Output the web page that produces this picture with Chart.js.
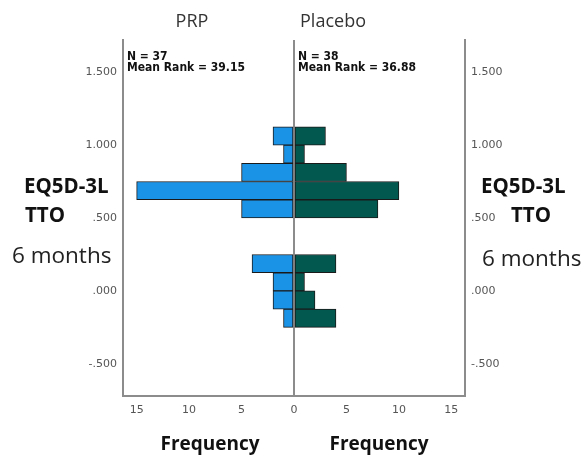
<!DOCTYPE html>
<html>
<head>
<meta charset="utf-8">
<script src="https://cdn.jsdelivr.net/npm/chart.js@4/dist/chart.umd.min.js"></script>
<style>
    html, body { margin: 0; padding: 0; background: #fff; }
    #wrap { width: 587px; height: 457px; }
</style>
</head>
<body>
<div id="wrap"><canvas id="pyramid"></canvas></div>
<script>
// bin midpoints (bin width .125) and counts per group
const binMids = [1.0625, 0.9375, 0.8125, 0.6875, 0.5625, 0.1875, 0.0625, -0.0625, -0.1875];
const prpCounts = [2, 1, 5, 15, 5, 4, 2, 2, 1];
const placeboCounts = [3, 1, 5, 10, 8, 4, 1, 2, 4];
const yTicks = [1.5, 1.0, 0.5, 0, -0.5];
const xTicks = [-15, -10, -5, 0, 5, 10, 15];
const groupLabels = ['PRP', 'Placebo'];
const groupStats = [['N = 37', 'Mean Rank = 39.15'], ['N = 38', 'Mean Rank = 36.88']];

const frameColor = '#8c8c8c';
const tickFont = { family: 'DejaVu Sans', size: 11 };

// "1.500", ".500", "-.500" like SPSS
function spssNum(v) {
    let s = Math.abs(v).toFixed(3);
    if (s.startsWith('0')) s = s.slice(1);
    return (v < 0 ? '-' : '') + s;
}

const sideText = {
    id: 'sideText',
    afterDraw(chart) {
        const ctx = chart.ctx;
        const a = chart.chartArea;
        const mid = chart.scales.x.getPixelForValue(0);
        ctx.save();
        ctx.fillStyle = '#333';
        ctx.textBaseline = 'alphabetic';
        ctx.textAlign = 'center';
        ctx.font = '18px "Open Sans"';
        ctx.fillText(groupLabels[0], 192, 27);
        ctx.fillText(groupLabels[1], 333, 27);

        ctx.fillStyle = '#111';
        ctx.font = 'bold 19px "Open Sans"';
        ctx.fillText('Frequency', 210, 450);
        ctx.fillText('Frequency', 379, 450);

        // variable label both sides
        ctx.textAlign = 'left';
        ctx.font = 'bold 20.5px "Open Sans"';
        ctx.fillText('EQ5D-3L', 24, 193);
        ctx.fillText('TTO', 25, 222);
        ctx.fillText('EQ5D-3L', 481, 193);
        ctx.fillText('TTO', 511, 222);
        ctx.fillStyle = '#222';
        ctx.font = '22.5px "Open Sans"';
        ctx.fillText('6 months', 12, 263);
        ctx.fillText('6 months', 482, 266);

        // N / mean rank annotations
        ctx.fillStyle = '#111';
        ctx.font = 'bold 12px "DejaVu Sans Condensed"';
        [a.left + 4, mid + 4].forEach((x, i) => {
            ctx.fillText(groupStats[i][0], x, a.top + 20);
            ctx.fillText(groupStats[i][1], x, a.top + 31);
        });
        ctx.restore();
    }
};

new Chart(document.getElementById('pyramid'), {
    type: 'bar',
    data: {
        datasets: [{
            label: groupLabels[0],
            data: binMids.map((m, i) => ({ x: -prpCounts[i], y: m })),
            backgroundColor: '#1a92e6',
            borderColor: '#1a1a1a',
            borderWidth: 1,
            borderSkipped: false
        }, {
            label: groupLabels[1],
            data: binMids.map((m, i) => ({ x: placeboCounts[i], y: m })),
            backgroundColor: '#02574f',
            borderColor: '#1a1a1a',
            borderWidth: 1,
            borderSkipped: false
        }]
    },
    options: {
        indexAxis: 'y',
        responsive: true,
        maintainAspectRatio: false,
        animation: false,
        grouped: false,
        categoryPercentage: 1,
        barPercentage: 1,
        layout: { padding: { top: 40, left: 0, right: 0, bottom: 0 } },
        plugins: {
            legend: { display: false },
            tooltip: { enabled: false }
        },
        scales: {
            x: {
                type: 'linear',
                min: -16.3,
                max: 16.3,
                afterBuildTicks: s => { s.ticks = xTicks.map(v => ({ value: v })); },
                afterFit: s => { s.height = 61; },
                grid: {
                    drawTicks: false,
                    color: c => c.tick && c.tick.value === 0 ? frameColor : 'transparent',
                    lineWidth: 2
                },
                border: { color: frameColor, width: 2 },
                ticks: {
                    padding: 8,
                    color: '#555',
                    font: tickFont,
                    callback: v => Math.abs(v)
                }
            },
            y: {
                type: 'linear',
                position: 'left',
                offset: false,
                min: -0.72,
                max: 1.72,
                afterBuildTicks: s => { s.ticks = yTicks.map(v => ({ value: v })); },
                afterFit: s => { s.width = 123; },
                grid: { display: false, drawTicks: false, offset: false },
                border: { color: frameColor, width: 2 },
                ticks: { padding: 6, color: '#555', font: tickFont, callback: v => spssNum(v) }
            },
            y2: {
                type: 'linear',
                position: 'right',
                offset: false,
                min: -0.72,
                max: 1.72,
                afterBuildTicks: s => { s.ticks = yTicks.map(v => ({ value: v })); },
                afterFit: s => { s.width = 122; },
                grid: { display: false, drawTicks: false, offset: false },
                border: { color: frameColor, width: 2 },
                ticks: { padding: 6, color: '#555', font: tickFont, callback: v => spssNum(v) }
            }
        }
    },
    plugins: [sideText]
});
</script>
</body>
</html>
